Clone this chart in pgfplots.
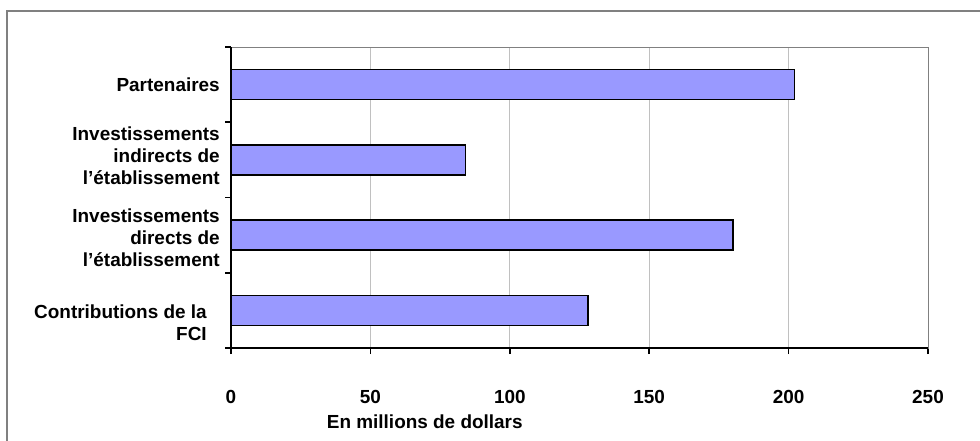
\documentclass[border=0pt]{standalone}
\usepackage{pgfplots}
\pgfplotsset{compat=1.18}
\usepackage{fontspec}
\setmainfont{Liberation Sans}

\definecolor{barblue}{RGB}{153,153,255}
\definecolor{gridgray}{RGB}{192,192,192}
\definecolor{framegray}{RGB}{128,128,128}

\newcommand{\lbl}{\fontsize{14.2}{16.5}\selectfont\bfseries}

\begin{document}
\begin{tikzpicture}
\path[use as bounding box] (0,0) rectangle (735pt,330pt);
\draw[framegray, line width=1.1pt] (5.25pt,-2pt) -- (5.25pt,321.75pt) -- (737pt,321.75pt);

\begin{axis}[
at={(173.25pt,69pt)},
anchor=south west,
scale only axis,
width=522.75pt,
height=225.75pt,
clip=false,
xmin=0, xmax=250,
ymin=0.5, ymax=4.5,
xtick={0,50,100,150,200,250},
ytick={0.5,1.5,2.5,3.5,4.5},
yticklabels={},
xmajorgrids,
grid style={gridgray, line width=0.75pt},
axis line style={framegray, line width=0.75pt},
xtick pos=bottom,
ytick pos=left,
tick align=outside,
major tick length=4.5pt,
tick style={black, line width=1.3pt},
/pgf/number format/assume math mode=true,
xticklabel style={font=\lbl, yshift=-23.5pt},
xlabel={En millions de dollars},
xlabel style={font=\lbl, at={(axis description cs:0.278,0)}, anchor=center, yshift=-55pt},
]
\addplot[xbar, bar width=22.5pt, fill=barblue, draw=black, line width=1pt]
coordinates {(128,1) (180,2) (84,3) (202,4)};
\draw[black, line width=1.5pt] (rel axis cs:0,1) -- (rel axis cs:0,0) -- (rel axis cs:1,0);
\begin{scope}[every node/.style={anchor=east, align=right, inner sep=0pt, font=\lbl, xshift=-8.25pt}]
\node at (axis cs:0,4.0) {Partenaires};
\node at (axis cs:0,3.05) {Investissements\\indirects de\\l’établissement};
\node at (axis cs:0,1.96) {Investissements\\directs de\\l’établissement};
\node at (axis cs:0,0.84) {Contributions de la\hspace*{9.75pt}\\FCI\hspace*{9.75pt}};
\end{scope}
\end{axis}
\end{tikzpicture}
\end{document}
